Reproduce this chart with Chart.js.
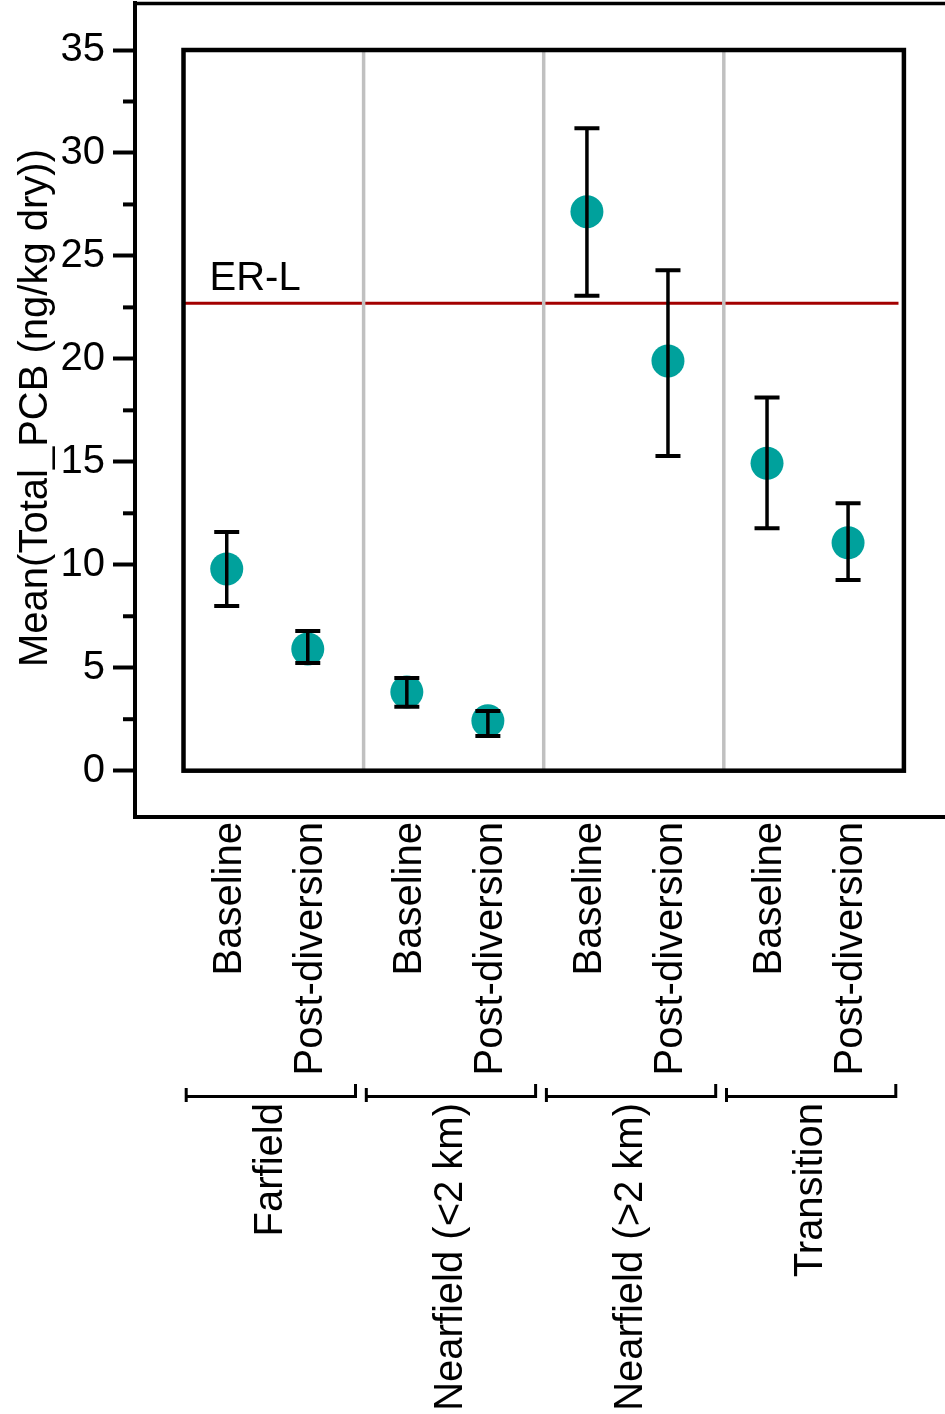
<!DOCTYPE html>
<html>
<head>
<meta charset="utf-8">
<title>Mean Total PCB</title>
<script src="https://cdn.jsdelivr.net/npm/chart.js@4.4.1/dist/chart.umd.min.js"></script>
<style>
  html, body { margin: 0; padding: 0; background: #fff; }
  canvas { display: block; }
</style>
</head>
<body>
<canvas id="grafico" width="945" height="1414"></canvas>
<script>
// ── Dados ─────────────────────────────────
const groups  = ['Farfield', 'Nearfield (<2 km)', 'Nearfield (>2 km)', 'Transition'];
const periods = ['Baseline', 'Post-diversion'];
// one value per group x period, baseline first
const means = [9.80, 5.91, 3.82, 2.42, 27.15, 19.90, 14.93, 11.07];
const upper = [11.59, 6.78, 4.50, 2.90, 31.20, 24.30, 18.12, 12.99];
const lower = [8.00, 5.23, 3.10, 1.69, 23.07, 15.28, 11.77, 9.26];
const erlValue = 22.7;
const erlLabel = 'ER-L';
const yTitle = 'Mean(Total_PCB (ng/kg dry))';
const yTicks = [0, 5, 10, 15, 20, 25, 30, 35];
const yMinor = [2.5, 7.5, 12.5, 17.5, 22.5, 27.5, 32.5];

const FAMILY = '"Liberation Sans", Arial, sans-serif';
const FONT   = '40px ' + FAMILY;
const TEAL   = '#00a19c';
const offsets = [0.24, 0.69];   // place of each period inside its group

const points = means.map((m, i) => ({
  x: Math.floor(i / 2) + offsets[i % 2],
  y: m
}));

// zera o padding automático para a área do gráfico ficar onde queremos
const noPad = s => { s.paddingTop = 0; s.paddingBottom = 0; s.paddingLeft = 0; s.paddingRight = 0; };

// ── Desenho extra: caixa, divisores, barras de erro, rótulos ──
const extras = {
  id: 'extras',
  afterDatasetsDraw(chart) {
    const { ctx, chartArea: ca, scales: { x, y } } = chart;
    const y0 = y.getPixelForValue(0), y35 = y.getPixelForValue(35);
    const x0 = x.getPixelForValue(0), x4 = x.getPixelForValue(groups.length);
    ctx.save();

    // divisores cinzas
    ctx.strokeStyle = '#c0c0c0';
    ctx.lineWidth = 3.5;
    for (let g = 1; g < groups.length; g++) {
      const px = x.getPixelForValue(g);
      ctx.beginPath(); ctx.moveTo(px, y35); ctx.lineTo(px, y0); ctx.stroke();
    }

    // barras de erro (por cima dos pontos)
    ctx.strokeStyle = '#000';
    points.forEach((p, i) => {
      const px = x.getPixelForValue(p.x);
      const pu = y.getPixelForValue(upper[i]);
      const pl = y.getPixelForValue(lower[i]);
      ctx.lineWidth = 3.5;
      ctx.beginPath(); ctx.moveTo(px, pu); ctx.lineTo(px, pl); ctx.stroke();
      ctx.lineWidth = 4;
      ctx.beginPath();
      ctx.moveTo(px - 12.5, pu); ctx.lineTo(px + 12.5, pu);
      ctx.moveTo(px - 12.5, pl); ctx.lineTo(px + 12.5, pl);
      ctx.stroke();
    });

    // caixa interna
    ctx.lineWidth = 4.5;
    ctx.strokeRect(x0, y35, x4 - x0, y0 - y35);

    // moldura externa (linha do topo) e ticks menores
    ctx.lineWidth = 3.5;
    ctx.beginPath(); ctx.moveTo(ca.left - 2, ca.top + 0.5); ctx.lineTo(ca.right, ca.top + 0.5); ctx.stroke();
    ctx.lineWidth = 4;
    ctx.beginPath(); ctx.moveTo(ca.left - 2, ca.bottom); ctx.lineTo(ca.left + 2, ca.bottom); ctx.stroke();
    yMinor.forEach(v => {
      const py = y.getPixelForValue(v);
      ctx.beginPath(); ctx.moveTo(ca.left - 12, py); ctx.lineTo(ca.left, py); ctx.stroke();
    });

    // texto ER-L
    ctx.fillStyle = '#000';
    ctx.font = FONT;
    ctx.textAlign = 'left';
    ctx.textBaseline = 'alphabetic';
    ctx.fillText(erlLabel, x0 + 26, y.getPixelForValue(erlValue) - 13);

    // rótulos rotacionados
    const vText = (txt, cx, top) => {
      ctx.save();
      ctx.translate(cx + 14, top);
      ctx.rotate(-Math.PI / 2);
      ctx.textAlign = 'right';
      ctx.fillText(txt, 0, 0);
      ctx.restore();
    };
    points.forEach((p, i) => vText(periods[i % 2], x.getPixelForValue(p.x), ca.bottom + 5));
    groups.forEach((g, i) => vText(g, x.getPixelForValue(i + 0.47), 1103));

    // colchetes dos grupos
    groups.forEach((g, i) => {
      const l = x.getPixelForValue(i + 0.015), r = x.getPixelForValue(i + 0.955);
      ctx.lineWidth = 3;
      ctx.beginPath(); ctx.moveTo(l, 1096.5); ctx.lineTo(r, 1096.5); ctx.stroke();
      ctx.beginPath();
      ctx.moveTo(l, 1088); ctx.lineTo(l, 1102);
      ctx.moveTo(r, 1084); ctx.lineTo(r, 1098);
      ctx.stroke();
    });

    // título do eixo Y
    ctx.save();
    ctx.translate(47, 408);
    ctx.rotate(-Math.PI / 2);
    ctx.textAlign = 'center';
    ctx.fillText(yTitle, 0, 0);
    ctx.restore();

    ctx.restore();
  }
};

new Chart(document.getElementById('grafico').getContext('2d'), {
  type: 'scatter',
  data: {
    datasets: [
      {
        type: 'line',
        data: [{ x: 0, y: erlValue }, { x: groups.length - 0.03, y: erlValue }],
        borderColor: '#a30000',
        borderWidth: 3,
        pointRadius: 0,
        order: 2
      },
      {
        data: points,
        backgroundColor: TEAL,
        borderWidth: 0,
        pointRadius: 16.5,
        pointHoverRadius: 16.5,
        order: 1
      }
    ]
  },
  options: {
    responsive: false,
    devicePixelRatio: 1,
    animation: false,
    layout: { autoPadding: false, padding: { top: 3, right: 0, bottom: 0, left: 0 } },
    plugins: { legend: { display: false }, tooltip: { enabled: false } },
    scales: {
      x: {
        type: 'linear',
        min: -0.2693, max: 4.2282,
        ticks: { display: false },
        grid: { display: false },
        border: { display: true, color: '#000', width: 4 },
        afterFit: s => { s.height = 597; noPad(s); }
      },
      y: {
        type: 'linear',
        min: -2.249, max: 37.283,
        afterBuildTicks: s => { s.ticks = yTicks.map(v => ({ value: v })); },
        ticks: {
          color: '#000',
          padding: 8,
          font: { family: FAMILY, size: 40 }
        },
        grid: {
          display: true, drawOnChartArea: false, drawTicks: true,
          tickLength: 22, tickWidth: 4, tickColor: '#000'
        },
        border: { display: true, color: '#000', width: 4 },
        afterFit: s => { s.width = 135; noPad(s); }
      }
    }
  },
  plugins: [extras]
});
</script>
</body>
</html>
